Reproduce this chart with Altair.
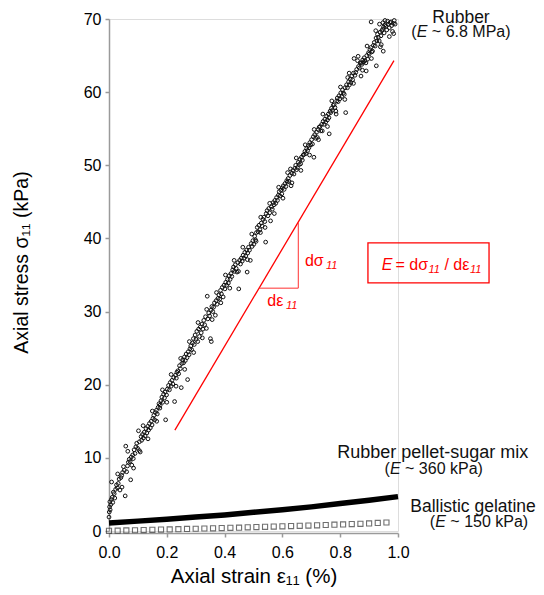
import altair as alt
import pandas as pd

# ---------------- data ----------------
rubber_points = [
    (0.000, 1.9), (0.001, 2.6), (0.002, 3.3), (0.003, 4.0), (0.004, 2.9), (0.006, 3.6), (0.008, 4.3),
    (0.009, 6.7), (0.011, 4.6), (0.013, 3.9), (0.015, 5.3), (0.018, 5.1), (0.020, 4.5), (0.023, 5.7),
    (0.026, 6.3), (0.029, 5.9), (0.032, 6.5), (0.035, 7.1), (0.038, 5.6), (0.041, 7.3), (0.044, 7.6),
    (0.047, 8.0), (0.050, 8.8), (0.053, 8.3), (0.056, 4.8), (0.058, 11.6), (0.061, 8.1), (0.064, 8.9),
    (0.067, 9.4), (0.070, 9.8), (0.073, 9.5), (0.075, 7.0), (0.077, 10.1), (0.079, 9.0), (0.082, 10.4),
    (0.084, 9.9), (0.087, 11.1), (0.090, 10.6), (0.093, 11.5), (0.096, 12.0), (0.099, 11.3), (0.102, 13.7),
    (0.105, 12.2), (0.108, 10.8), (0.111, 12.9), (0.113, 12.4), (0.116, 13.2), (0.119, 12.7), (0.122, 13.5),
    (0.125, 13.0), (0.128, 14.0), (0.131, 13.4), (0.134, 14.3), (0.137, 13.8), (0.140, 14.7), (0.143, 14.1),
    (0.146, 15.0), (0.149, 14.5), (0.152, 15.4), (0.155, 15.8), (0.158, 15.2), (0.161, 16.2), (0.164, 16.5),
    (0.167, 16.0), (0.170, 16.9), (0.173, 17.4), (0.176, 16.8), (0.177, 17.2), (0.180, 17.8), (0.183, 18.3),
    (0.186, 17.6), (0.189, 18.7), (0.192, 18.2), (0.194, 19.0), (0.196, 15.2), (0.199, 18.6), (0.202, 19.4),
    (0.206, 19.9), (0.209, 19.3), (0.212, 20.3), (0.215, 19.8), (0.218, 20.6), (0.221, 20.1), (0.224, 21.0),
    (0.227, 17.7), (0.230, 21.3), (0.233, 20.9), (0.235, 21.7), (0.238, 21.9), (0.241, 21.5), (0.244, 22.6),
    (0.247, 22.2), (0.250, 19.6), (0.252, 22.9), (0.255, 23.4), (0.258, 23.0), (0.261, 23.8), (0.264, 23.3),
    (0.267, 24.2), (0.270, 23.7), (0.272, 20.7), (0.274, 24.5), (0.277, 24.1), (0.280, 24.9), (0.283, 25.3),
    (0.286, 24.8), (0.289, 25.7), (0.292, 26.3), (0.295, 25.5), (0.298, 26.8), (0.301, 26.2), (0.304, 27.3),
    (0.307, 25.9), (0.310, 27.6), (0.313, 26.6), (0.316, 27.9), (0.319, 27.1), (0.322, 28.3), (0.325, 27.6),
    (0.328, 28.8), (0.331, 28.2), (0.334, 29.3), (0.337, 27.7), (0.340, 32.1), (0.342, 29.0), (0.345, 29.8),
    (0.348, 29.4), (0.351, 26.3), (0.354, 25.9), (0.353, 30.2), (0.356, 30.7), (0.359, 30.0), (0.362, 30.6),
    (0.365, 31.2), (0.368, 29.5), (0.371, 31.5), (0.374, 31.0), (0.377, 31.8), (0.380, 32.3), (0.383, 31.7),
    (0.386, 32.9), (0.389, 32.4), (0.392, 33.3), (0.395, 32.0), (0.398, 33.6), (0.401, 33.1), (0.404, 34.0),
    (0.407, 33.6), (0.410, 34.4), (0.413, 33.9), (0.416, 34.9), (0.419, 34.4), (0.422, 35.2), (0.425, 34.8),
    (0.428, 35.7), (0.431, 36.1), (0.434, 35.5), (0.437, 36.4), (0.440, 35.9), (0.443, 35.4), (0.446, 36.7),
    (0.449, 33.1), (0.452, 37.0), (0.455, 36.5), (0.458, 37.3), (0.461, 36.9), (0.464, 37.7), (0.467, 37.3),
    (0.470, 38.1), (0.473, 37.6), (0.476, 38.4), (0.478, 35.4), (0.480, 38.0), (0.483, 38.8), (0.486, 38.4),
    (0.489, 37.0), (0.492, 39.3), (0.495, 38.9), (0.498, 39.7), (0.501, 39.2), (0.504, 40.3), (0.507, 39.8),
    (0.510, 40.8), (0.513, 41.5), (0.516, 40.9), (0.519, 41.8), (0.522, 41.2), (0.524, 40.8), (0.527, 42.1),
    (0.530, 41.7), (0.533, 42.6), (0.536, 42.9), (0.539, 42.3), (0.542, 39.5), (0.544, 43.4), (0.547, 43.8),
    (0.550, 43.1), (0.553, 44.1), (0.556, 43.5), (0.559, 42.4), (0.562, 44.3), (0.565, 44.0), (0.568, 44.9),
    (0.571, 44.6), (0.574, 45.2), (0.577, 44.8), (0.580, 45.6), (0.583, 45.2), (0.586, 45.9), (0.589, 46.4),
    (0.592, 45.8), (0.595, 46.6), (0.598, 46.1), (0.600, 46.9), (0.603, 47.2), (0.606, 46.7), (0.609, 47.5),
    (0.612, 47.1), (0.615, 47.9), (0.617, 47.7), (0.620, 48.2), (0.623, 47.8), (0.626, 48.6), (0.628, 49.5),
    (0.630, 47.2), (0.633, 48.9), (0.636, 49.3), (0.640, 48.8), (0.643, 49.6), (0.646, 50.0), (0.649, 49.4),
    (0.652, 49.7), (0.655, 50.4), (0.658, 50.1), (0.661, 50.8), (0.663, 50.2), (0.666, 51.1), (0.669, 50.7),
    (0.672, 51.4), (0.675, 51.5), (0.678, 51.9), (0.681, 51.6), (0.684, 52.3), (0.687, 52.0), (0.690, 52.7),
    (0.692, 52.4), (0.695, 53.1), (0.698, 52.8), (0.701, 53.5), (0.704, 52.9), (0.707, 53.9), (0.709, 51.1),
    (0.712, 54.2), (0.715, 53.7), (0.718, 54.5), (0.721, 53.8), (0.724, 54.9), (0.727, 55.2), (0.730, 55.3),
    (0.733, 54.7), (0.736, 55.6), (0.738, 54.7), (0.741, 56.0), (0.744, 55.6), (0.747, 56.3), (0.750, 55.9),
    (0.753, 56.7), (0.756, 56.2), (0.759, 57.0), (0.761, 56.5), (0.762, 54.3), (0.765, 57.4), (0.767, 57.2),
    (0.770, 57.8), (0.773, 57.5), (0.776, 58.2), (0.779, 58.3), (0.782, 57.9), (0.785, 57.4), (0.788, 58.8),
    (0.790, 59.2), (0.793, 58.7), (0.796, 59.5), (0.799, 59.1), (0.802, 59.9), (0.805, 59.4), (0.808, 60.3),
    (0.811, 59.9), (0.814, 59.7), (0.817, 60.6), (0.819, 57.2), (0.822, 61.0), (0.825, 60.6), (0.826, 62.0),
    (0.829, 61.4), (0.832, 61.0), (0.835, 61.8), (0.837, 61.3), (0.840, 62.2), (0.843, 61.7), (0.846, 62.6),
    (0.848, 64.6), (0.851, 62.3), (0.854, 62.7), (0.857, 63.1), (0.860, 64.3), (0.863, 63.5), (0.866, 63.3),
    (0.869, 64.0), (0.872, 62.2), (0.873, 64.0), (0.875, 63.8), (0.878, 64.4), (0.881, 64.1), (0.883, 64.7),
    (0.886, 64.3), (0.889, 64.0), (0.890, 62.9), (0.892, 65.0), (0.895, 64.5), (0.898, 65.4), (0.900, 65.2),
    (0.903, 65.8), (0.906, 66.1), (0.907, 69.6), (0.909, 65.5), (0.912, 65.6), (0.915, 66.4), (0.918, 66.8),
    (0.921, 66.3), (0.924, 67.4), (0.925, 63.6), (0.927, 67.0), (0.929, 67.9), (0.932, 67.5), (0.935, 67.0),
    (0.936, 69.3), (0.938, 68.2), (0.941, 67.7), (0.942, 66.5), (0.944, 68.4), (0.947, 68.6), (0.948, 69.5),
    (0.949, 65.6), (0.950, 68.9), (0.952, 68.1), (0.955, 69.2), (0.958, 69.0), (0.961, 68.5), (0.964, 69.7),
    (0.967, 69.3), (0.970, 68.8), (0.973, 69.5), (0.976, 69.6), (0.978, 69.1), (0.981, 68.3), (0.984, 69.4),
    (0.987, 69.8), (0.990, 69.3),
    # points on the edges of the scatter band
    (0.030, 7.8), (0.045, 6.0), (0.065, 10.9), (0.085, 8.6), (0.105, 11.0), (0.118, 14.4), (0.135, 12.6),
    (0.150, 16.4), (0.165, 15.0), (0.185, 19.3), (0.200, 17.6), (0.215, 21.4), (0.232, 19.8), (0.248, 23.6),
    (0.262, 22.1), (0.278, 25.9), (0.293, 24.4), (0.308, 28.5), (0.323, 26.4), (0.338, 30.3), (0.357, 28.9),
    (0.372, 32.6), (0.387, 31.2), (0.403, 35.0), (0.418, 33.2), (0.433, 37.0), (0.448, 35.5), (0.463, 38.8),
    (0.479, 37.1), (0.494, 40.6), (0.509, 39.6), (0.525, 42.9), (0.540, 41.5), (0.556, 44.8), (0.572, 43.4),
    (0.587, 47.0), (0.602, 45.5), (0.618, 49.0), (0.633, 47.6), (0.648, 51.0), (0.664, 49.3), (0.679, 52.8),
    (0.694, 51.4), (0.710, 54.9), (0.725, 53.5), (0.740, 57.0), (0.756, 55.3), (0.771, 58.8), (0.786, 57.0),
    (0.801, 60.7), (0.816, 59.0), (0.831, 62.6), (0.846, 61.2), (0.862, 64.9), (0.877, 63.0), (0.893, 66.3),
    (0.908, 64.6), (0.923, 68.4), (0.939, 66.2), (0.955, 69.8), (0.970, 67.6), (0.985, 68.0),
]

mix_strain = [0.0, 0.1, 0.2, 0.3, 0.4, 0.5, 0.6, 0.7, 0.8, 0.9, 1.0]
mix_stress = [1.1, 1.35, 1.6, 1.9, 2.2, 2.55, 2.9, 3.3, 3.75, 4.2, 4.7]

gel_strain = [0.00, 0.03, 0.06, 0.09, 0.12, 0.15, 0.18, 0.21, 0.24, 0.27, 0.30, 0.33, 0.36, 0.39,
              0.42, 0.45, 0.48, 0.51, 0.54, 0.57, 0.60, 0.63, 0.66, 0.69, 0.72, 0.75, 0.78, 0.81,
              0.84, 0.87, 0.90, 0.93, 0.96]
gel_stress = [0.02, 0.05, 0.08, 0.10, 0.13, 0.16, 0.19, 0.22, 0.25, 0.28, 0.31, 0.34, 0.37, 0.40,
              0.43, 0.46, 0.50, 0.53, 0.57, 0.60, 0.64, 0.67, 0.71, 0.74, 0.78, 0.82, 0.86, 0.90,
              0.94, 0.98, 1.04, 1.10, 1.16]

slope_strain = [0.228, 0.986]
slope_stress = [13.8, 64.3]
tri_strain = [0.519, 0.655, 0.655]
tri_stress = [33.2, 33.2, 42.2]

box_strain = [0.896]
box_strain2 = [1.315]
box_stress = [33.91]
box_stress2 = [39.38]

x_ticks = [0.0, 0.2, 0.4, 0.6, 0.8, 1.0]
y_ticks = [0, 10, 20, 30, 40, 50, 60, 70]

# annotation pieces: text, strain, stress, font size, style, align, colour
ann_text = ["Rubber", "(", "E", "~ 6.8 MPa)",
            "Rubber pellet-sugar mix", "(", "E", "~ 360 kPa)",
            "Ballistic gelatine", "(", "E", "~ 150 kPa)",
            "dσ", "11", "dε", "11",
            "E", "= dσ", "11", "/ dε", "11"]
ann_x = [1.218, 1.0647, 1.0647, 1.1171,
         1.1204, 0.972, 0.972, 1.0244,
         1.2595, 1.1287, 1.1287, 1.1811,
         0.678, 0.751, 0.5478, 0.6125,
         0.9436, 0.9913, 1.1055, 1.1607, 1.2490]
ann_y = [69.50, 67.60, 67.60, 67.60,
         9.94, 7.79, 7.79, 7.79,
         2.64, 0.59, 0.59, 0.59,
         36.23, 35.78, 30.76, 30.31,
         35.68, 35.68, 35.27, 35.68, 35.27]
ann_size = [17.5, 16, 16, 16,
            18, 16, 16, 16,
            17.5, 16, 16, 16,
            16, 11, 16, 11,
            16, 16, 11, 16, 11]
ann_style = ["normal", "normal", "italic", "normal",
             "normal", "normal", "italic", "normal",
             "normal", "normal", "italic", "normal",
             "normal", "italic", "normal", "italic",
             "italic", "normal", "italic", "normal", "italic"]
ann_align = ["center", "right", "left", "left",
             "center", "right", "left", "left",
             "center", "right", "left", "left",
             "left", "left", "left", "left",
             "left", "left", "left", "left", "left"]
ann_color = ["#111111"] * 12 + ["#ff0000"] * 9

# ---------------- build ----------------
FONT = "Liberation Sans"
AXC = "#9a9a9a"

xs = alt.Scale(domain=[0, 1], nice=False, zero=False)
ys = alt.Scale(domain=[0, 70], nice=False, zero=False)

x_axis = alt.Axis(values=x_ticks, format=".1f", title="Axial strain ε₁₁ (%)", grid=False,
                  offset=2, domainColor=AXC, tickColor=AXC, domainWidth=1.5, tickWidth=1.5,
                  tickSize=4, labelFont=FONT, labelFontSize=16, labelColor="black",
                  labelPadding=7, labelFlush=False, titleFont=FONT, titleFontSize=20.5,
                  titleFontWeight="normal", titleColor="black", titleY=49.5,
                  titleBaseline="alphabetic")
y_axis = alt.Axis(values=y_ticks, title="Axial stress σ₁₁ (kPa)", grid=False,
                  domainColor=AXC, tickColor=AXC, domainWidth=1.5, tickWidth=1.5,
                  tickSize=4, labelFont=FONT, labelFontSize=16, labelColor="black",
                  labelPadding=4, labelFlush=False, titleFont=FONT, titleFontSize=19.5,
                  titleFontWeight="normal", titleColor="black", titleX=-82, titleY=243,
                  titleAngle=270, titleBaseline="alphabetic", titleAlign="center")

X = alt.X("strain:Q", scale=xs, axis=x_axis)
Y = alt.Y("stress:Q", scale=ys, axis=y_axis)

rubber_df = pd.DataFrame(rubber_points, columns=["strain", "stress"])
mix_df = pd.DataFrame({"strain": mix_strain, "stress": mix_stress})
gel_df = pd.DataFrame({"strain": gel_strain, "stress": gel_stress})
slope_df = pd.DataFrame({"strain": slope_strain, "stress": slope_stress})
tri_df = pd.DataFrame({"strain": tri_strain, "stress": tri_stress, "k": [0, 1, 2]})
box_df = pd.DataFrame({"strain": box_strain, "strain2": box_strain2,
                       "stress": box_stress, "stress2": box_stress2})
ann_df = pd.DataFrame({"text": ann_text, "strain": ann_x, "stress": ann_y, "size": ann_size,
                       "style": ann_style, "align": ann_align, "color": ann_color})

slope = alt.Chart(slope_df).mark_line(color="#ff0000", strokeWidth=1.3).encode(x=X, y=Y)
tri = alt.Chart(tri_df).mark_line(color="#ff3030", strokeWidth=1.0).encode(
    x=X, y=Y, order="k:Q")
box = alt.Chart(box_df).mark_rect(fillOpacity=0, stroke="#ff0000", strokeWidth=1.3).encode(
    x=X, x2="strain2:Q", y=Y, y2="stress2:Q")
mix = alt.Chart(mix_df).mark_line(color="black", strokeWidth=5.5, strokeCap="butt").encode(x=X, y=Y)
gel = alt.Chart(gel_df).mark_square(filled=False, size=26, stroke="#333333",
                                    strokeWidth=1.1).encode(x=X, y=Y)
rub = alt.Chart(rubber_df).mark_point(shape="circle", filled=False, size=14, stroke="#111111",
                                      strokeWidth=1.0, opacity=1).encode(x=X, y=Y)

layers = [slope, tri, box, mix, gel, rub]
for style in ["normal", "italic"]:
    for align in ["left", "center", "right"]:
        sub = ann_df[(ann_df["style"] == style) & (ann_df["align"] == align)]
        if len(sub) == 0:
            continue
        layers.append(
            alt.Chart(sub).mark_text(font=FONT, fontStyle=style, align=align,
                                     baseline="alphabetic").encode(
                x=X, y=Y, text="text:N",
                size=alt.Size("size:Q", scale=None),
                color=alt.Color("color:N", scale=None))
        )

chart = alt.layer(*layers).properties(
    width=289, height=512,
    autosize=alt.AutoSizeParams(type="none"),
    padding={"left": 101, "top": 11, "right": 138, "bottom": 56},
).configure_view(stroke=None).configure(background="white")

chart.save("out.html", embed_options={"renderer": "svg", "actions": False})
